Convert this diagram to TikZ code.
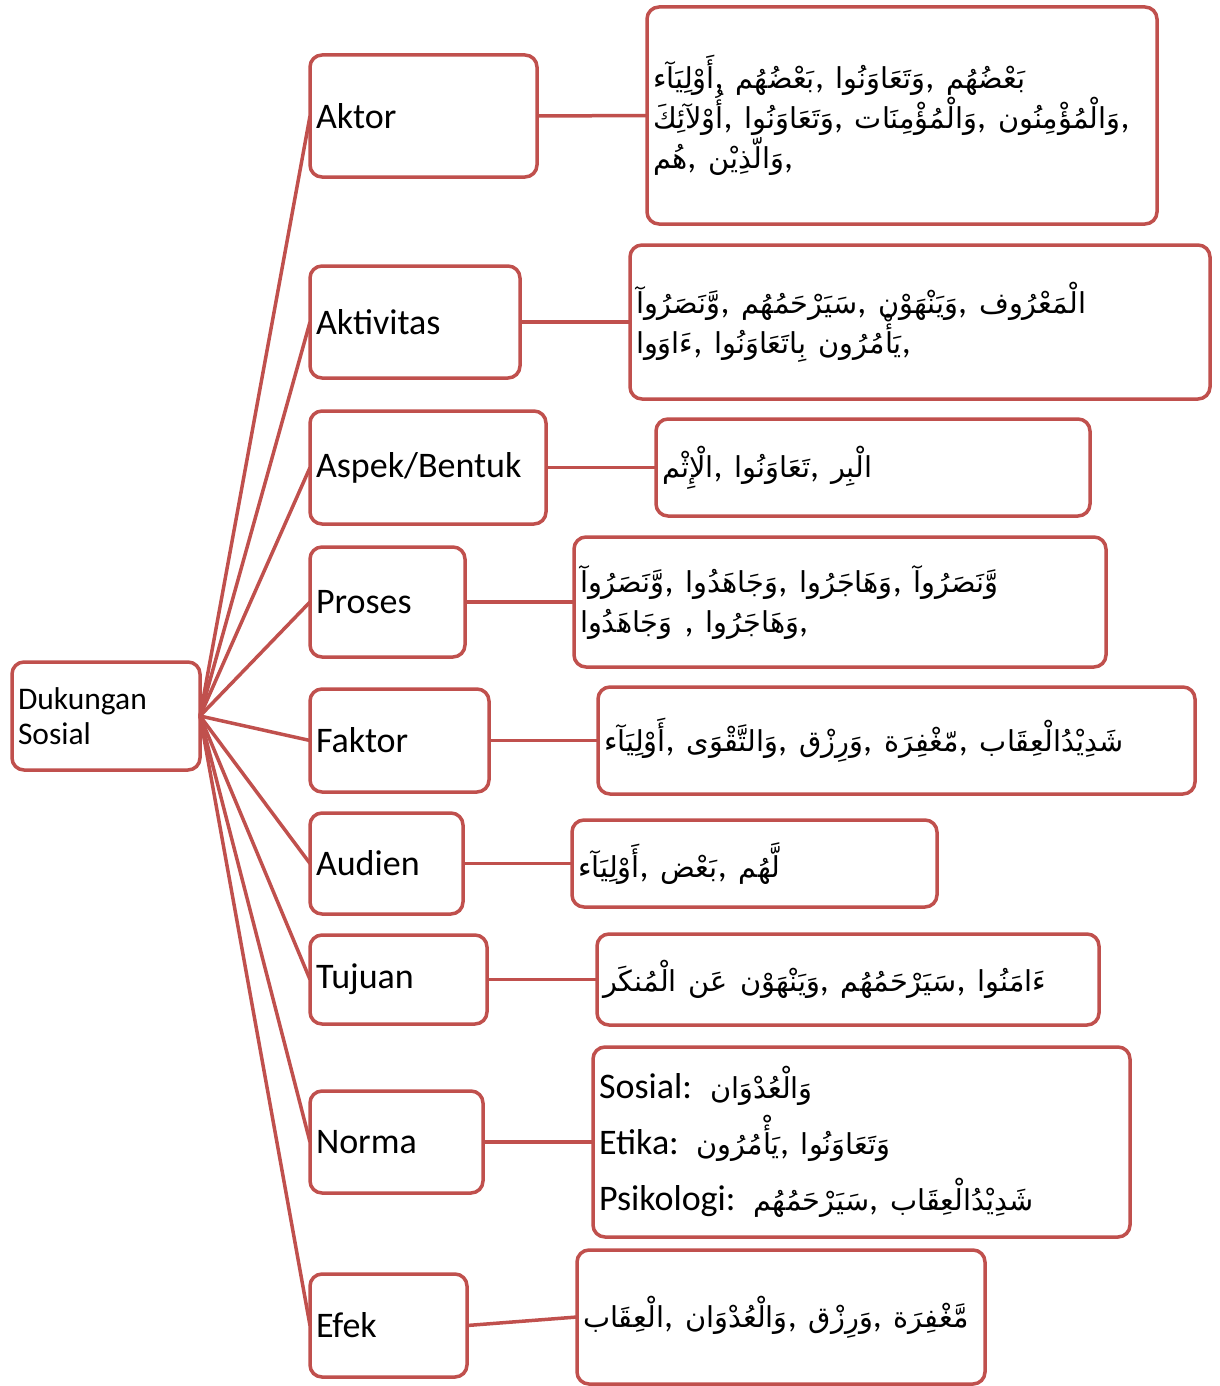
\documentclass[tikz,border=0pt]{standalone}
\usepackage{fontspec}
\setmainfont{Carlito}
\newfontfamily\arabicfont[Script=Arabic,Scale=0.8]{DejaVu Sans}
\TeXXeTstate=1
\usepackage{tikz}
\usetikzlibrary{positioning}
\definecolor{garis}{HTML}{C0504D}
\newcommand{\ar}[1]{{\arabicfont\beginR #1\endR}}

\begin{document}
\begin{tikzpicture}[x=1pt,y=-1pt,every node/.style={outer sep=0pt},
  kotak/.style={draw=garis,line width=3.5pt,rounded corners=12pt,fill=white,
    anchor=west,inner sep=6pt,align=left,font=\fontsize{36}{40}\selectfont,
    execute at begin node={\lineskiplimit=-20pt\relax}},
  hubung/.style={draw=garis,line width=3.5pt}]
\useasboundingbox (0,0) rectangle (1219,1386);
% akar
\node (akar) [kotak,text width=176pt,minimum height=108pt,
  font=\fontsize{31.5}{35}\selectfont] at (12,716) {Dukungan\\Sosial};
% kolom kategori
\node (aktor) [kotak,text width=215pt,minimum height=122pt] at (310,116) {Aktor};
\node (aktivitas) [kotak,text width=198pt,minimum height=112pt] at (310,322) {Aktivitas};
\node (aspek) [kotak,text width=224pt,minimum height=113pt] at (310,467.5) {Aspek/Bentuk};
\node (proses) [kotak,text width=143pt,minimum height=110pt] at (310,602) {Proses};
\node (faktor) [kotak,text width=167pt,minimum height=103pt] at (310,740.5) {Faktor};
\node (audien) [kotak,text width=141pt,minimum height=101pt] at (310,863.5) {Audien};
\node (tujuan) [kotak,text width=165pt,minimum height=89pt] at (310,979.5) {Tujuan};
\node (norma) [kotak,text width=161pt,minimum height=102pt] at (310,1142) {Norma};
\node (efek) [kotak,text width=145pt,minimum height=103pt] at (310,1325.5) {Efek};
% kolom ayat
\node (ayataktor) [kotak,text width=498pt,minimum height=217pt] at (647,115.5)
  {\ar{أَوْلِيَآء}, \ar{بَعْضُهُم}, \ar{وَتَعَاوَنُوا}, \ar{بَعْضُهُم}\\
   \ar{أُوْلآئِكَ}, \ar{وَتَعَاوَنُوا}, \ar{وَالْمُؤْمِنَات}, \ar{وَالْمُؤْمِنُون},\\
   \ar{هُم}, \ar{وَالّذِيْن},};
\node (ayataktivitas) [kotak,text width=568pt,minimum height=154pt] at (630,322)
  {\ar{وَّنَصَرُوآ}, \ar{سَيَرْحَمُهُم}, \ar{وَيَنْهَوْن}, \ar{الْمَعْرُوف}\\
   \ar{ءَاوَوا}, \ar{يَأْمُرُون بِاتَعَاوَنُوا},};
\node (ayataspek) [kotak,text width=422pt,minimum height=97pt] at (656,467.5)
  {\ar{الْإِثْم}, \ar{تَعَاوَنُوا}, \ar{الْبِر}};
\node (ayatproses) [kotak,text width=520pt,minimum height=130pt] at (574,602)
  {\ar{وَّنَصَرُوآ}, \ar{وَجَاهَدُوا}, \ar{وَهَاجَرُوا}, \ar{وَّنَصَرُوآ}\\
   \ar{وَجَاهَدُوا} , \ar{وَهَاجَرُوا},};
\node (ayatfaktor) [kotak,text width=585pt,minimum height=107pt] at (598,740.5)
  {\ar{أَوْلِيَآء}, \ar{وَالتَّقْوَى}, \ar{وَرِزْق}, \ar{مّغْفِرَة}, \ar{شَدِيْدُالْعِقَاب}};
\node (ayataudien) [kotak,text width=353pt,minimum height=87pt] at (572,863.5)
  {\ar{أَوْلِيَآء}, \ar{بَعْض}, \ar{لَّهُم}};
\node (ayattujuan) [kotak,text width=490pt,minimum height=91pt] at (597,979.5)
  {\ar{وَيَنْهَوْن عَن الْمُنكَر}, \ar{سَيَرْحَمُهُم}, \ar{ءَامَنُوا}};
\node (ayatnorma) [kotak,text width=525pt,minimum height=190pt,
  font=\fontsize{36}{56}\selectfont] at (593,1142)
  {Sosial: \ar{وَالْعُدْوَان}\\
   Etika: \ar{يَأْمُرُون}, \ar{وَتَعَاوَنُوا}\\
   Psikologi: \ar{سَيَرْحَمُهُم}, \ar{شَدِيْدُالْعِقَاب}};
\node (ayatefek) [kotak,text width=396pt,minimum height=134pt] at (577,1317)
  {\ar{الْعِقَاب}, \ar{وَالْعُدْوَان}, \ar{وَرِزْق}, \ar{مَّغْفِرَة}};
% cabang dari akar
\draw [hubung] (akar.east) -- (aktor.west);
\draw [hubung] (akar.east) -- (aktivitas.west);
\draw [hubung] (akar.east) -- (aspek.west);
\draw [hubung] (akar.east) -- (proses.west);
\draw [hubung] (akar.east) -- (faktor.west);
\draw [hubung] (akar.east) -- (audien.west);
\draw [hubung] (akar.east) -- (tujuan.west);
\draw [hubung] (akar.east) -- (norma.west);
\draw [hubung] (akar.east) -- (efek.west);
% kategori ke ayat
\draw [hubung] (aktor.east) -- (ayataktor.west);
\draw [hubung] (aktivitas.east) -- (ayataktivitas.west);
\draw [hubung] (aspek.east) -- (ayataspek.west);
\draw [hubung] (proses.east) -- (ayatproses.west);
\draw [hubung] (faktor.east) -- (ayatfaktor.west);
\draw [hubung] (audien.east) -- (ayataudien.west);
\draw [hubung] (tujuan.east) -- (ayattujuan.west);
\draw [hubung] (norma.east) -- (ayatnorma.west);
\draw [hubung] (efek.east) -- (ayatefek.west);
\end{tikzpicture}
\end{document}
